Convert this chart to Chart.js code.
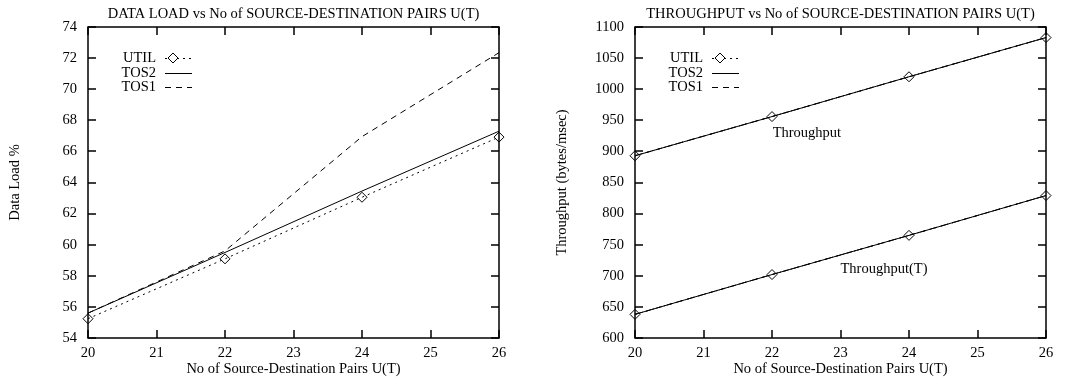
<!DOCTYPE html>
<html>
<head>
<meta charset="utf-8">
<script src="https://cdn.jsdelivr.net/npm/chart.js@4"></script>
<style>
  body { margin: 0; background: #fff; }
  .wrap { display: flex; width: 1068px; height: 378px; }
  .box { position: relative; width: 534px; height: 378px; }
</style>
</head>
<body>
<div class="wrap">
  <div class="box"><canvas id="load"></canvas></div>
  <div class="box"><canvas id="thr"></canvas></div>
</div>
<script>
// x values (no of source-destination pairs)
const pairs = [20, 22, 24, 26];

// data load %
const loadUtil = [55.24, 59.09, 63.05, 66.92];
const loadTos2 = [55.6, 59.5, 63.45, 67.3];
const loadTos1 = [55.6, 59.6, 66.95, 72.35];

// throughput (bytes/msec)
const thrUtil = [893, 956, 1020, 1083];
const thrTos2 = [893, 956, 1020, 1083];
const thrTos1 = [893, 956, 1020, 1083];
const thrTUtil = [638, 702, 765, 829];
const thrTTos2 = [638, 702, 765, 829];
const thrTTos1 = [638, 702, 765, 829];

const legendNames = ['UTIL', 'TOS2', 'TOS1'];
const FONT = 'Liberation Serif';
const FS = 14.5;

function pts(ys) {
  return pairs.map((x, i) => ({ x: x, y: ys[i] }));
}

function utilSet(ys) {
  return {
    data: pts(ys), borderColor: '#000', borderWidth: 1, borderDash: [2, 4], clip: false,
    pointStyle: 'rectRot', pointRadius: 5, pointBorderWidth: 1,
    pointBorderColor: '#000', pointBackgroundColor: 'rgba(0,0,0,0)'
  };
}
function tos2Set(ys) {
  return { data: pts(ys), borderColor: '#000', borderWidth: 1, pointRadius: 0, clip: false };
}
function tos1Set(ys) {
  return { data: pts(ys), borderColor: '#000', borderWidth: 1, borderDash: [6, 5], pointRadius: 0, clip: false };
}

// gnuplot style frame with inward ticks, legend and labels
const framePlugin = {
  id: 'frame',
  afterDraw(chart) {
    const ctx = chart.ctx;
    const a = chart.chartArea;
    const xs = chart.scales.x, ys = chart.scales.y;
    const tl = 8;
    ctx.save();
    ctx.strokeStyle = '#000';
    ctx.lineWidth = 1.5;
    ctx.setLineDash([]);
    ctx.strokeRect(a.left, a.top, a.right - a.left, a.bottom - a.top);
    ctx.beginPath();
    ys.ticks.forEach(t => {
      const y = Math.round(ys.getPixelForValue(t.value));
      ctx.moveTo(a.left, y); ctx.lineTo(a.left + tl, y);
      ctx.moveTo(a.right, y); ctx.lineTo(a.right - tl, y);
    });
    xs.ticks.forEach(t => {
      const x = Math.round(xs.getPixelForValue(t.value));
      ctx.moveTo(x, a.bottom); ctx.lineTo(x, a.bottom - tl);
      ctx.moveTo(x, a.top); ctx.lineTo(x, a.top + tl);
    });
    ctx.stroke();

    // legend
    ctx.lineWidth = 1;
    ctx.font = FS + 'px "' + FONT + '"';
    ctx.fillStyle = '#000';
    ctx.textAlign = 'right';
    ctx.textBaseline = 'middle';
    const tx = a.left + 68;
    const rows = [31, 46, 60];
    legendNames.forEach((name, i) => {
      const y = a.top + rows[i];
      ctx.fillText(name, tx, y);
      ctx.beginPath();
      if (i === 0) ctx.setLineDash([2, 4]);
      else if (i === 2) ctx.setLineDash([6, 5]);
      else ctx.setLineDash([]);
      ctx.moveTo(tx + 9, y + 0.5); ctx.lineTo(tx + 36, y + 0.5);
      ctx.stroke();
      if (i === 0) {
        ctx.setLineDash([]);
        ctx.beginPath();
        const cx = tx + 17;
        ctx.moveTo(cx - 5, y); ctx.lineTo(cx, y - 5); ctx.lineTo(cx + 5, y); ctx.lineTo(cx, y + 5); ctx.closePath();
        ctx.fillStyle = '#fff';
        ctx.fill();
        ctx.stroke();
        ctx.fillStyle = '#000';
      }
    });

    // text labels placed at data coordinates
    const notes = chart.options.plugins.frame.notes || [];
    ctx.textAlign = 'left';
    notes.forEach(n => {
      ctx.fillText(n.text, xs.getPixelForValue(n.x), ys.getPixelForValue(n.y));
    });
    ctx.restore();
  }
};

function makeChart(id, datasets, opts) {
  return new Chart(document.getElementById(id), {
    type: 'line',
    data: { datasets: datasets },
    plugins: [framePlugin],
    options: {
      responsive: false,
      animation: false,
      layout: { padding: { left: 0, right: opts.padRight, top: 0, bottom: 0 } },
      plugins: {
        legend: { display: false },
        tooltip: { enabled: false },
        title: {
          display: true, text: opts.title, color: '#000', fullSize: false,
          font: { family: FONT, size: FS, weight: 'normal' },
          padding: { top: 5, bottom: 4.6 }
        },
        frame: { notes: opts.notes }
      },
      scales: {
        x: {
          type: 'linear', min: 20, max: 26,
          ticks: { stepSize: 1, color: '#000', padding: 6, font: { family: FONT, size: FS } },
          grid: { display: false, drawTicks: false },
          border: { display: false },
          title: {
            display: true, text: 'No of Source-Destination Pairs U(T)', color: '#000',
            font: { family: FONT, size: FS }, padding: { top: 0, bottom: 0 }
          },
          afterFit(s) { s.height = 40; }
        },
        y: {
          min: opts.ymin, max: opts.ymax,
          ticks: {
            stepSize: opts.step, color: '#000', padding: 11, font: { family: FONT, size: FS },
            callback: v => String(v)
          },
          grid: { display: false, drawTicks: false },
          border: { display: false },
          title: {
            display: true, text: opts.ytitle, color: '#000',
            font: { family: FONT, size: FS }, padding: { top: opts.ytitlePad, bottom: 0 }
          },
          afterFit(s) { s.width = opts.yWidth; }
        }
      }
    }
  });
}

document.getElementById('load').width = 534;
document.getElementById('load').height = 378;
document.getElementById('thr').width = 534;
document.getElementById('thr').height = 378;

makeChart('load', [utilSet(loadUtil), tos2Set(loadTos2), tos1Set(loadTos1)], {
  title: 'DATA LOAD vs No of SOURCE-DESTINATION PAIRS U(T)',
  ytitle: 'Data Load %', ymin: 54, ymax: 74, step: 2,
  yWidth: 88, padRight: 35, ytitlePad: 6, notes: []
});

makeChart('thr', [
  utilSet(thrUtil), tos2Set(thrTos2), tos1Set(thrTos1),
  utilSet(thrTUtil), tos2Set(thrTTos2), tos1Set(thrTTos1)
], {
  title: 'THROUGHPUT vs No of SOURCE-DESTINATION PAIRS U(T)',
  ytitle: 'Throughput (bytes/msec)', ymin: 600, ymax: 1100, step: 50,
  yWidth: 101, padRight: 22, ytitlePad: 19,
  notes: [{ text: 'Throughput', x: 22.01, y: 929 }, { text: 'Throughput(T)', x: 23.0, y: 710 }]
});
</script>
</body>
</html>
